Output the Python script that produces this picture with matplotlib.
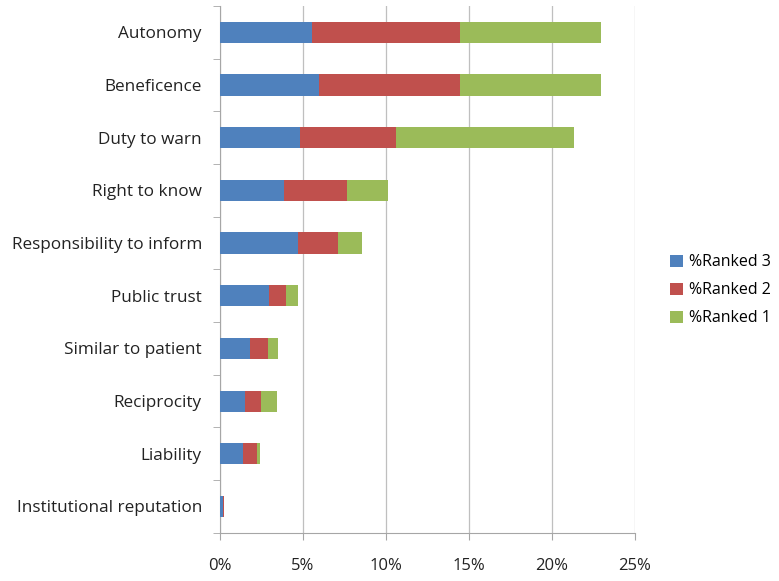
import matplotlib
matplotlib.use("Agg")
import matplotlib.pyplot as plt
import numpy as np
from matplotlib.ticker import FixedLocator, FuncFormatter

plt.rcParams['font.family'] = ['Open Sans', 'DejaVu Sans']

# 数据（从图中读取，单位 %）
categories = ['Autonomy', 'Beneficence', 'Duty to warn', 'Right to know',
              'Responsibility to inform', 'Public trust', 'Similar to patient',
              'Reciprocity', 'Liability', 'Institutional reputation']
ranked3 = [5.55, 5.96, 4.81, 3.85, 4.68, 2.97, 1.79, 1.49, 1.40, 0.20]
ranked2 = [8.89, 8.52, 5.82, 3.83, 2.45, 0.98, 1.12, 0.98, 0.81, 0.02]
ranked1 = [8.53, 8.49, 10.69, 2.47, 1.43, 0.74, 0.60, 0.94, 0.22, 0.0]
series_names = ['%Ranked 3', '%Ranked 2', '%Ranked 1']
colors = ['#4F81BD', '#C0504D', '#9BBB59']

fig = plt.figure(figsize=(7.79, 5.81), dpi=100)
ax = fig.add_axes([0.2824, 0.0831, 0.815 - 0.2824, 0.9897 - 0.0831])

y = np.arange(len(categories))
left = np.zeros(len(categories))
for name, vals, c in zip(series_names, [ranked3, ranked2, ranked1], colors):
    vals = np.array(vals)
    ax.barh(y, vals, left=left, height=0.4, color=c, label=name, zorder=3)
    left += vals

ax.set_ylim(len(categories) - 0.5, -0.5)
ax.set_xlim(0, 25)

# 坐标轴样式
ax.set_xticks([0, 5, 10, 15, 20, 25])
ax.xaxis.set_major_formatter(FuncFormatter(lambda v, p: f'{v:.0f}%'))
ax.grid(True, axis='x', color='#BFBFBF', linewidth=0.9, zorder=0)
ax.tick_params(axis='x', length=5, color='#A6A6A6', pad=13, labelsize=12,
               labelcolor='#222222')

ax.set_yticks(y)
ax.set_yticklabels(categories)
ax.yaxis.set_minor_locator(FixedLocator(np.arange(-0.5, len(categories), 1.0)))
ax.tick_params(axis='y', which='major', length=0, pad=13, labelsize=12.3,
               labelcolor='#222222')
ax.tick_params(axis='y', which='minor', length=5, color='#A6A6A6')

for side in ['top', 'right']:
    ax.spines[side].set_visible(False)
for side in ['left', 'bottom']:
    ax.spines[side].set_color('#A6A6A6')

ax.legend(loc='center left', bbox_to_anchor=(1.07, 0.46), frameon=False,
          fontsize=11.5, handlelength=0.8, handleheight=0.8, labelspacing=0.75,
          handletextpad=0.4, borderaxespad=0)

fig.savefig('out.png', dpi=100)
